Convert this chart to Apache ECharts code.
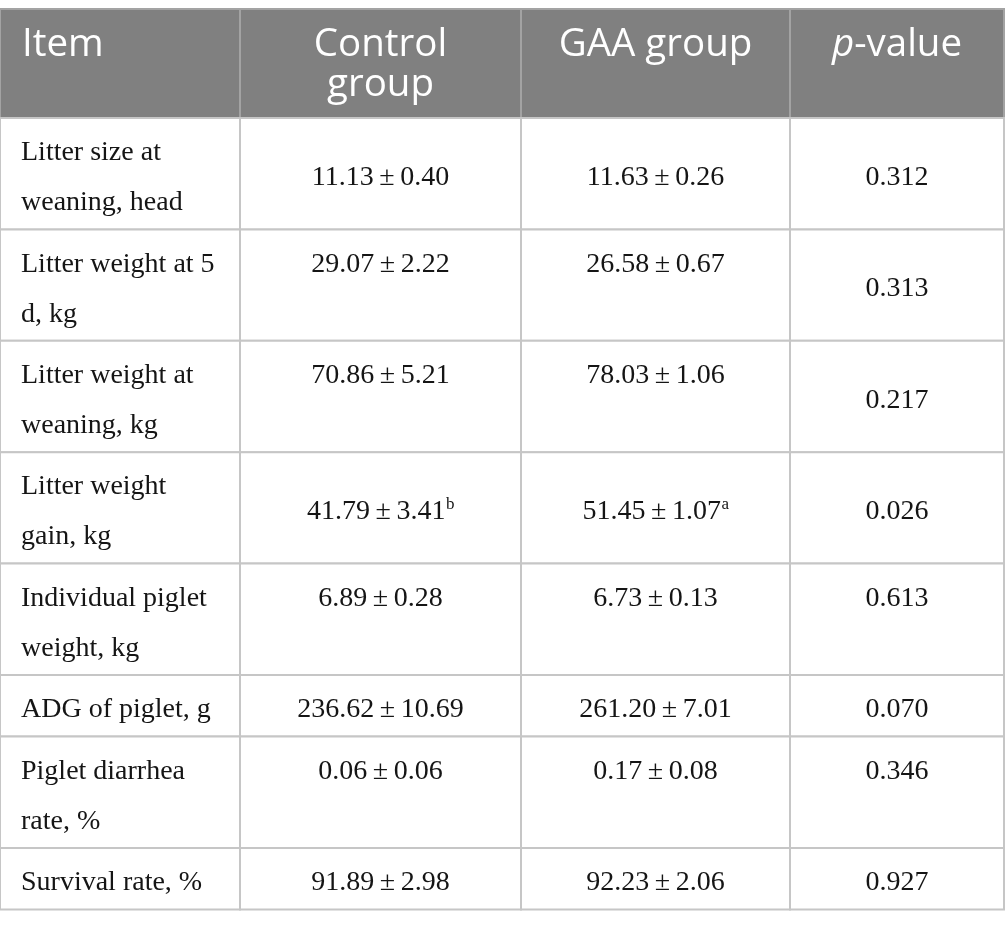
<!DOCTYPE html>
<html>
<head>
<meta charset="utf-8">
<title>Litter performance</title>
<script src="https://cdn.jsdelivr.net/npm/echarts@6/dist/echarts.min.js"></script>
<style>
  html, body { margin: 0; padding: 0; background: #fff; }
  #main { width: 1005px; height: 928px; }
</style>
</head>
<body>
<div id="main"></div>
<script>
// 表头
var columns = ['Item', 'Control\ngroup', 'GAA group', '{i|p}-value'];

// 行名
var items = [
  'Litter size at\nweaning, head',
  'Litter weight at 5\nd, kg',
  'Litter weight at\nweaning, kg',
  'Litter weight\ngain, kg',
  'Individual piglet\nweight, kg',
  'ADG of piglet, g',
  'Piglet diarrhea\nrate, %',
  'Survival rate, %'
];

// 数值
var controlMean = [11.13, 29.07, 70.86, 41.79, 6.89, 236.62, 0.06, 91.89];
var controlSd   = [0.40, 2.22, 5.21, 3.41, 0.28, 10.69, 0.06, 2.98];
var controlSig  = ['', '', '', 'b', '', '', '', ''];
var gaaMean = [11.63, 26.58, 78.03, 51.45, 6.73, 261.20, 0.17, 92.23];
var gaaSd   = [0.26, 0.67, 1.06, 1.07, 0.13, 7.01, 0.08, 2.06];
var gaaSig  = ['', '', '', 'a', '', '', '', ''];
var pValues = [0.312, 0.313, 0.217, 0.026, 0.613, 0.070, 0.346, 0.927];

// 版式（不是数据）
var colEdges = [0, 240, 521, 790, 1004];
var tableTop = 9;
var headerH = 109;
var lineH = 49.8;
var rowPad = 11.8;
var textShift = 4; // 字形视觉中心修正
var bodyFont = 'Liberation Serif';
var bodySize = 28;
var supSize = 17;
var valueAlign = [
  ['middle', 'middle', 'middle'],
  ['top', 'top', 'middle'],
  ['top', 'top', 'middle'],
  ['middle', 'middle', 'middle'],
  ['top', 'top', 'top'],
  ['middle', 'middle', 'middle'],
  ['top', 'top', 'top'],
  ['middle', 'middle', 'middle']
];

var rowEdges = [tableTop, tableTop + headerH];
items.forEach(function (t) {
  var n = t.split('\n').length;
  rowEdges.push(rowEdges[rowEdges.length - 1] + rowPad + lineH * n);
});

// 量字宽
var measureCtx = document.createElement('canvas').getContext('2d');
function textWidth(t, size) {
  measureCtx.font = size + 'px "' + bodyFont + '"';
  return measureCtx.measureText(t).width;
}

function fmt(m, s) {
  return m.toFixed(2) + '\u2009\u00b1\u2009' + s.toFixed(2);
}

// 每个格子一条数据 [列, 行]
var cells = [];
for (var r = 0; r <= items.length; r++) {
  for (var c = 0; c < columns.length; c++) {
    cells.push([c, r]);
  }
}

function cellText(c, r) {
  if (r === 0) return columns[c];
  var i = r - 1;
  if (c === 0) return items[i];
  if (c === 1) return fmt(controlMean[i], controlSd[i]);
  if (c === 2) return fmt(gaaMean[i], gaaSd[i]);
  return pValues[i].toFixed(3);
}

function cellSig(c, r) {
  if (r === 0) return '';
  if (c === 1) return controlSig[r - 1];
  if (c === 2) return gaaSig[r - 1];
  return '';
}

function renderItem(params, api) {
  var c = api.value(0);
  var r = api.value(1);
  var p0 = api.coord([colEdges[c], rowEdges[r]]);
  var p1 = api.coord([colEdges[c + 1], rowEdges[r + 1]]);
  var x = p0[0], y = p0[1], w = p1[0] - p0[0], h = p1[1] - p0[1];
  var isHead = r === 0;
  var children = [{
    type: 'rect',
    shape: { x: x, y: y, width: w, height: h },
    style: {
      fill: isHead ? '#808080' : '#fff',
      stroke: isHead ? '#a3a3a3' : '#c6c6c6',
      lineWidth: 2
    }
  }];
  var text = cellText(c, r);
  if (isHead) {
    children.push({
      type: 'text',
      style: {
        text: text,
        x: c === 0 ? x + 22 : x + w / 2,
        y: y + 16,
        align: c === 0 ? 'left' : 'center',
        verticalAlign: 'top',
        fill: '#fff',
        fontFamily: 'Open Sans',
        fontSize: 38.5,
        lineHeight: 40,
        rich: { i: { fontStyle: 'italic', fontFamily: 'Open Sans', fontSize: 38.5, fill: '#fff', lineHeight: 40 } }
      }
    });
    return { type: 'group', children: children };
  }
  var va = c === 0 ? 'top' : valueAlign[r - 1][c - 1];
  var ty = (va === 'top' ? y + rowPad / 2 : y + h / 2) + textShift;
  var sig = cellSig(c, r);
  var tx = c === 0 ? x + 21 : x + w / 2;
  var align = c === 0 ? 'left' : 'center';
  if (sig) {
    var mw = textWidth(text, bodySize);
    var sw = textWidth(sig, supSize);
    tx = x + w / 2 - (mw + sw) / 2;
    align = 'left';
    children.push({
      type: 'text',
      style: {
        text: sig,
        x: tx + mw + 0.5,
        y: ty - 7,
        align: 'left',
        verticalAlign: 'middle',
        fill: '#151515',
        fontFamily: bodyFont,
        fontSize: supSize
      }
    });
  }
  children.push({
    type: 'text',
    style: {
      text: text,
      x: tx,
      y: ty,
      align: align,
      verticalAlign: va,
      fill: '#151515',
      fontFamily: bodyFont,
      fontSize: bodySize,
      lineHeight: 50
    }
  });
  return { type: 'group', children: children };
}

var chart = echarts.init(document.getElementById('main'), null, { renderer: 'canvas' });
chart.setOption({
  animation: false,
  backgroundColor: '#fff',
  grid: { left: 0, right: 0, top: 0, bottom: 0 },
  xAxis: { type: 'value', min: 0, max: 1005, show: false },
  yAxis: { type: 'value', min: 0, max: 928, inverse: true, show: false },
  series: [{
    type: 'custom',
    silent: true,
    renderItem: renderItem,
    data: cells
  }]
});
</script>
</body>
</html>
